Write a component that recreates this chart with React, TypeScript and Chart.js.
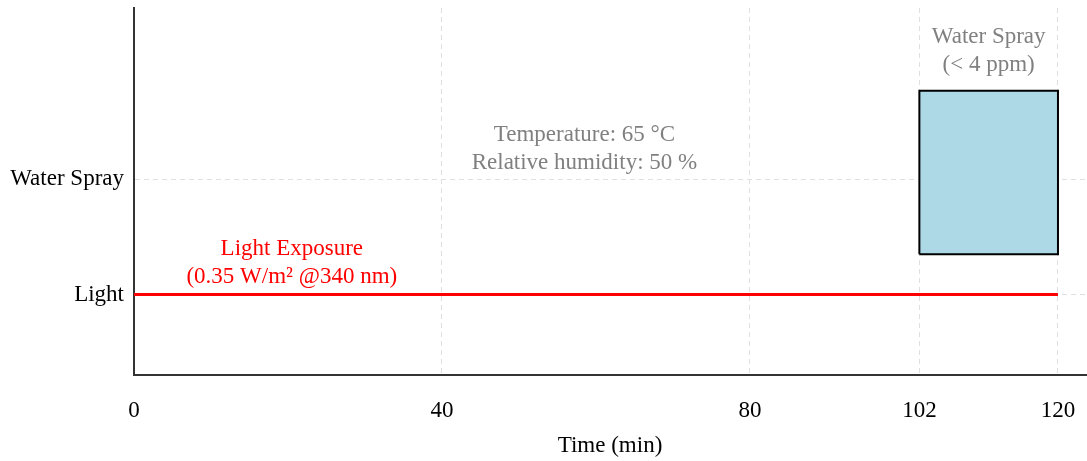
import React, { useEffect, useRef } from 'react';
import { Chart, registerables } from 'chart.js';

Chart.register(...registerables);

// ---- data ----
const timeTicks = [0, 40, 80, 102, 120];
const levelValues = [1, 2];
const levelLabels = ['Light', 'Water Spray'];

const lightX = [0, 120];
const lightY = [1, 1];

const sprayStart = 102;
const sprayEnd = 120;
const sprayLow = 1.35;
const sprayHigh = 2.77;

const noteLines = [
  ['Temperature: 65 °C', 'Relative humidity: 50 %'],
  ['Light Exposure', '(0.35 W/m² @340 nm)'],
  ['Water Spray', '(< 4 ppm)'],
];
const noteX = [58.5, 20.5, 111];
const noteY = [2.265, 1.275, 3.12];
const noteColors = ['#808080', '#ff0000', '#808080'];

const xMin = 0;
const xMax = 123.64;
const yMin = 0.3;
const yMax = 3.49;

const FONT = '"Liberation Serif", "Times New Roman", Times, serif';
const FS = 23;

const notePlugin = {
  id: 'notes',
  afterDatasetsDraw(chart: any) {
    const { ctx } = chart;
    const xs = chart.scales.x;
    const ys = chart.scales.y;
    ctx.save();
    ctx.font = `${FS}px ${FONT}`;
    ctx.textAlign = 'center';
    ctx.textBaseline = 'middle';
    noteLines.forEach((lines, i) => {
      const cx = xs.getPixelForValue(noteX[i]);
      const cy = ys.getPixelForValue(noteY[i]);
      ctx.fillStyle = noteColors[i];
      const lh = 28;
      lines.forEach((t, j) => {
        ctx.fillText(t, cx, cy + (j - (lines.length - 1) / 2) * lh);
      });
    });
    ctx.restore();
  },
};

export default function App() {
  const ref = useRef<HTMLCanvasElement | null>(null);

  useEffect(() => {
    document.body.style.margin = '0';
    if (!ref.current) return;

    const lightData = lightX.map((x, i) => ({ x, y: lightY[i] }));
    const sprayTop = [
      { x: sprayStart, y: sprayHigh },
      { x: sprayEnd, y: sprayHigh },
    ];
    const sprayBottom = [
      { x: sprayStart, y: sprayLow },
      { x: sprayEnd, y: sprayLow },
    ];
    const sprayOutline = [
      { x: sprayStart, y: sprayLow },
      { x: sprayStart, y: sprayHigh },
      { x: sprayEnd, y: sprayHigh },
      { x: sprayEnd, y: sprayLow },
      { x: sprayStart, y: sprayLow },
    ];

    const chart = new Chart(ref.current, {
      type: 'line',
      data: {
        datasets: [
          {
            label: 'Water Spray',
            data: sprayOutline,
            borderColor: '#000000',
            borderWidth: 2,
            pointRadius: 0,
            fill: false,
            tension: 0,
          },
          {
            label: 'Light',
            data: lightData,
            borderColor: '#ff0000',
            borderWidth: 3,
            pointRadius: 0,
            fill: false,
            tension: 0,
          },
          {
            label: 'Spray top',
            data: sprayTop,
            borderWidth: 0,
            borderColor: 'rgba(0,0,0,0)',
            backgroundColor: '#add8e6',
            pointRadius: 0,
            fill: '+1',
            tension: 0,
          },
          {
            label: 'Spray bottom',
            data: sprayBottom,
            borderWidth: 0,
            borderColor: 'rgba(0,0,0,0)',
            pointRadius: 0,
            fill: false,
            tension: 0,
          },
        ],
      },
      options: {
        animation: false,
        responsive: true,
        maintainAspectRatio: false,
        layout: { padding: { top: 8, right: 1, left: 0, bottom: 0 } },
        plugins: {
          legend: { display: false },
          tooltip: { enabled: false },
        },
        scales: {
          x: {
            type: 'linear',
            min: xMin,
            max: xMax,
            afterBuildTicks: (s: any) => {
              s.ticks = timeTicks.map((v) => ({ value: v }));
            },
            afterFit: (s: any) => {
              s.height = 86;
              s.paddingLeft = 0;
              s.paddingRight = 0;
            },
            ticks: {
              color: '#000',
              font: { family: FONT, size: FS },
              padding: 22,
              maxRotation: 0,
              autoSkip: false,
              callback: (v: any) => String(v),
            },
            grid: {
              color: '#e0e0e0',
              lineWidth: 1,
              drawTicks: false,
            },
            border: { display: true, color: '#333', width: 2, dash: [5, 4] },
            title: {
              display: true,
              text: 'Time (min)',
              color: '#000',
              font: { family: FONT, size: FS },
              padding: { top: 0, bottom: 1 },
            },
          },
          y: {
            type: 'linear',
            min: yMin,
            max: yMax,
            afterBuildTicks: (s: any) => {
              s.ticks = levelValues.map((v) => ({ value: v }));
            },
            afterFit: (s: any) => {
              s.width = 134;
              s.paddingTop = 0;
              s.paddingBottom = 0;
            },
            ticks: {
              color: '#000',
              font: { family: FONT, size: FS },
              padding: 10,
              autoSkip: false,
              callback: (v: any) => {
                const i = levelValues.indexOf(Number(v));
                return i >= 0 ? levelLabels[i] : '';
              },
            },
            grid: {
              color: '#e0e0e0',
              lineWidth: 1,
              drawTicks: false,
            },
            border: { display: true, color: '#333', width: 2, dash: [5, 4] },
          },
        },
      },
      plugins: [notePlugin],
    } as any);

    return () => chart.destroy();
  }, []);

  return (
    <div style={{ width: '1087px', height: '461px', position: 'relative' }}>
      <canvas ref={ref} />
    </div>
  );
}
